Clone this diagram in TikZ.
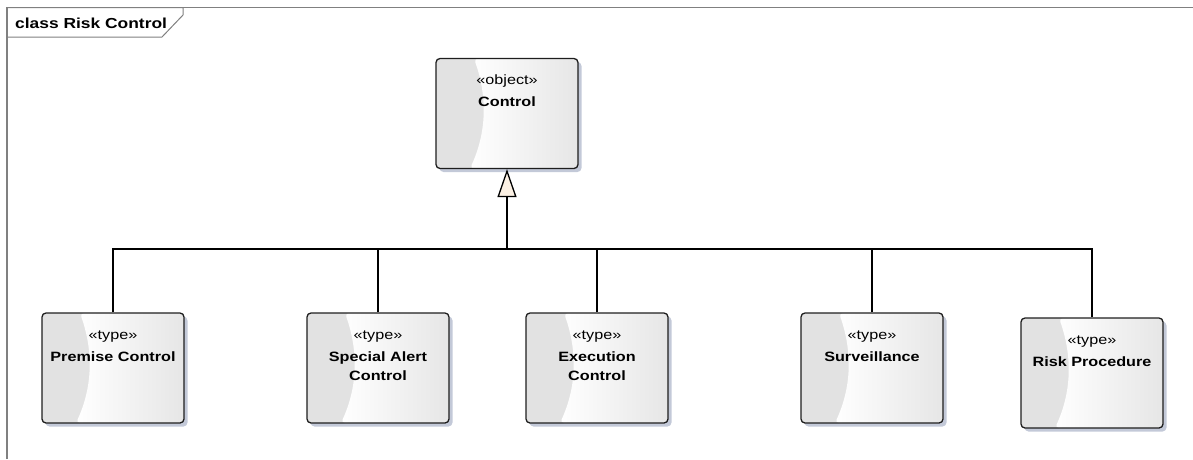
\documentclass[tikz,border=0pt]{standalone}
\usepackage{fontspec}
\setmainfont{Liberation Sans}[FakeStretch=1.2]
\usetikzlibrary{arrows.meta,shadows}
\definecolor{framec}{HTML}{808080}
\definecolor{boxline}{HTML}{1E1E1E}
\definecolor{leftgray}{HTML}{E2E2E2}
\definecolor{rightgray}{HTML}{E6E6E6}
\definecolor{shadowc}{HTML}{C3C9D8}
\definecolor{tipc}{HTML}{FCF1E4}
\tikzset{
  umlbox/.style={draw=boxline, line width=1.3pt, rounded corners=4pt,
    minimum width=142pt, minimum height=110pt, inner sep=0pt,
    drop shadow={shadow xshift=3.5pt, shadow yshift=-3.5pt, fill=shadowc, opacity=1},
    path picture={
      \fill[leftgray] (path picture bounding box.north west) rectangle (path picture bounding box.south east);
      \shade[left color=white, right color=rightgray]
        ([xshift=38pt]path picture bounding box.north west)
        .. controls ([xshift=52pt,yshift=-40pt]path picture bounding box.north west) and ([xshift=50pt,yshift=35pt]path picture bounding box.south west) ..
        ([xshift=34pt]path picture bounding box.south west)
        -- (path picture bounding box.south east) -- (path picture bounding box.north east) -- cycle;
    }},
  conn/.style={draw=black, line width=1.3pt},
  gen/.style={conn, -{Triangle[length=28pt,width=19pt,fill=tipc]}},
}
\newcommand{\boxtext}[2]{\parbox[t][108pt][t]{140pt}{\centering\fontsize{13.5}{19}\selectfont\rule{0pt}{25pt}#1\\[3pt]\textbf{#2}}}
\begin{document}
\begin{tikzpicture}[x=1pt,y=-1pt]
\useasboundingbox (0,0) rectangle (1193,459);
% frame
\draw[framec, line width=1.5pt] (7,459) -- (7,7.5) -- (1193,7.5);
\draw[framec, line width=1pt] (7,7.5) -- (183,7.5) -- (183,15) -- (162,37) -- (7,37);
\node[anchor=base west, inner sep=0pt, font=\fontsize{14.5}{16}\selectfont\bfseries] (title) at (15,28) {class Risk Control};
% boxes
\node[umlbox] (ctrl) at (507,113.5) {\boxtext{«object»}{Control}};
\node[umlbox] (pc) at (113,368) {\boxtext{«type»}{Premise Control}};
\node[umlbox] (sac) at (378,368) {\boxtext{«type»}{Special Alert\\Control}};
\node[umlbox] (ec) at (597,368) {\boxtext{«type»}{Execution\\Control}};
\node[umlbox] (sv) at (872,368) {\boxtext{«type»}{Surveillance}};
\node[umlbox] (rp) at (1092,373) {\boxtext{«type»}{Risk Procedure}};
% connectors
\coordinate (bus) at (507,249);
\draw[conn] (pc.north) |- (bus);
\draw[conn] (sac.north) |- (bus);
\draw[conn] (ec.north) |- (bus);
\draw[conn] (sv.north) |- (bus);
\draw[conn] (rp.north) |- (bus);
\draw[gen] (bus) -- (ctrl.south);
\end{tikzpicture}
\end{document}
